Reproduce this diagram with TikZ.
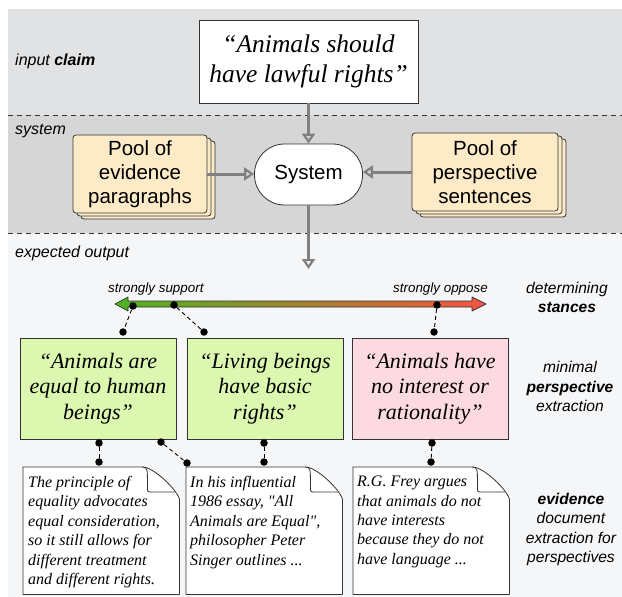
\documentclass[tikz,border=0pt]{standalone}
\usepackage{fontspec}
\setmainfont{Liberation Serif}
\setsansfont{Liberation Sans}
\newfontfamily\docfont{Liberation Serif}
\usetikzlibrary{arrows.meta,shadows,calc}
\definecolor{topc}{HTML}{E1E2E4}
\definecolor{sysc}{HTML}{D6D6D6}
\definecolor{botc}{HTML}{F5F6F8}
\definecolor{poolc}{HTML}{FDEBC8}
\definecolor{greenc}{HTML}{DBF7B0}
\definecolor{pinkc}{HTML}{FDD9E1}
\definecolor{arrowc}{HTML}{808080}
\definecolor{barl}{HTML}{4DB321}
\definecolor{barr}{HTML}{F7533F}
\definecolor{edge}{HTML}{333333}
\newcommand\docoutline[1]{%
 \filldraw[docline] (#1.south west) -- (#1.north west) -- ([xshift=-37pt]#1.north east)
   .. controls ([xshift=-26pt]#1.north east) and ([xshift=-3pt,yshift=-22pt]#1.north east) ..
   ([yshift=-32pt]#1.north east) -- (#1.south east) -- cycle;
 \draw[docline] ([xshift=-37pt]#1.north east)
   .. controls ([xshift=-32pt]#1.north east) and ([xshift=-32pt,yshift=-4pt]#1.north east) ..
   ([xshift=-32pt,yshift=-10pt]#1.north east) -- ([xshift=-32pt,yshift=-20pt]#1.north east)
   .. controls ([xshift=-32pt,yshift=-25pt]#1.north east) .. ([xshift=-27pt,yshift=-25pt]#1.north east)
   -- ([xshift=-4.5pt,yshift=-25pt]#1.north east);
}
\tikzset{
  lab/.style={font=\sffamily\itshape\fontsize{16}{19}\selectfont, inner sep=0pt},
  rlab/.style={font=\sffamily\itshape\fontsize{15.6}{19.5}\selectfont, inner sep=0pt, align=center},
  tiny/.style={font=\sffamily\itshape\fontsize{13.4}{16}\selectfont, inner sep=0pt},
  pool/.style={draw=edge, fill=poolc, line width=0.8pt, rounded corners=3pt,
    double copy shadow={shadow xshift=4pt, shadow yshift=-3pt},
    font=\sffamily\fontsize{20.5}{24}\selectfont, align=center, inner sep=0pt},
  persp/.style={draw=edge, line width=0.8pt, minimum width=156pt, minimum height=101pt,
    font=\itshape\fontsize{22}{25.5}\selectfont, align=center, inner sep=0pt},
  flow/.style={draw=arrowc, line width=3pt, -{Triangle[open, length=10pt, width=13pt, line width=2.2pt]}},
  dot/.style={circle, fill=black, inner sep=0pt, minimum size=7.5pt},
  link/.style={draw=black, line width=0.9pt, dash pattern=on 4pt off 3pt},
  sep/.style={draw=edge, line width=0.9pt, dash pattern=on 5pt off 4pt},
  docbox/.style={anchor=north west, minimum width=156pt, minimum height=127pt, inner sep=0pt},
  docline/.style={draw=edge, fill=white, line width=0.8pt, line join=round},
  doctext/.style={anchor=north west, inner sep=0pt, align=left,
    font=\docfont\itshape\fontsize{16}{19.4}\selectfont},
}
\begin{document}
\begin{tikzpicture}[x=1pt,y=-1pt]
\useasboundingbox (0,0) rectangle (622,597);
% bands
\fill[topc] (8,9) rectangle (622,115);
\fill[sysc] (8,115) rectangle (622,233);
\fill[botc] (8,233) rectangle (622,597);
\draw[sep] (8,115) -- (622,115);
\draw[sep] (8,233) -- (622,233);
% left labels
\node[lab, anchor=base west] (l1) at (15,65) {input \textbf{claim}};
\node[lab, anchor=base west] (l2) at (15,134) {system};
\node[lab, anchor=base west] (l3) at (15,257) {expected output};
% right labels (base anchor = last line baseline)
\node[rlab, anchor=base] (r1) at (567,312.5) {determining\\\textbf{stances}};
\node[rlab, anchor=base] (r2) at (570,411.5) {minimal\\\textbf{perspective}\\extraction};
\node[rlab, anchor=base] (r3) at (571,562.5) {\textbf{evidence}\\document\\extraction for\\perspectives};
% claim and system
\node[draw=edge, fill=white, line width=0.8pt, minimum width=219pt, minimum height=83pt,
  font=\itshape\fontsize{25.5}{30}\selectfont, align=center, inner sep=0pt]
  (claim) at (308.5,61.5) {``Animals should\\have lawful rights''};
\node[draw=edge, fill=white, line width=0.8pt, minimum width=108pt, minimum height=61pt,
  rounded corners=30pt, font=\sffamily\fontsize{20.5}{24}\selectfont, inner sep=0pt]
  (sys) at (308.5,174.5) {System};
\node[pool, minimum width=134pt, minimum height=78pt] (lpool) at (140,174) {Pool of\\evidence\\paragraphs};
\node[pool, minimum width=146pt, minimum height=78pt] (rpool) at (485,172) {Pool of\\perspective\\sentences};
\coordinate (out) at (308.5,269);
\draw[flow] (claim.south) -- (sys.north);
\draw[flow] (lpool.east) -- (lpool.east -| sys.west);
\draw[flow] (rpool.west) -- (rpool.west -| sys.east);
\draw[flow] (sys.south) -- (out);
% stance bar
\path[draw=edge, line width=0.7pt, left color=barl, right color=barr, line join=round]
  (115,304) -- (128,297) -- (128,301) -- (472,301) -- (472,297) -- (486,304)
  -- (472,311) -- (472,307) -- (128,307) -- (128,311) -- cycle;
\node[tiny, anchor=base west] (ss) at (108,292) {strongly support};
\node[tiny, anchor=base east] (so) at (488,292) {strongly oppose};
% perspectives
\node[persp, fill=greenc] (p1) at (98,388.5) {``Animals are\\equal to human\\beings''};
\node[persp, fill=greenc] (p2) at (265,388.5) {``Living beings\\have basic\\rights''};
\node[persp, fill=pinkc] (p3) at (430,388.5) {``Animals have\\no interest or\\rationality''};
% documents
\node[docbox] (d1) at (23,467) {};
\node[docbox] (d2) at (186,467) {};
\node[docbox] (d3) at (353,467) {};
\docoutline{d1}
\docoutline{d2}
\docoutline{d3}
\node[doctext] (t1) at ([xshift=5pt,yshift=-9pt]d1.north west) {The principle of\\equality advocates\\equal consideration,\\so it still allows for\\different treatment\\and different rights.};
\node[doctext] (t2) at ([xshift=4pt,yshift=-9pt]d2.north west) {In his influential\\1986 essay, "All\\Animals are Equal",\\philosopher Peter\\Singer outlines ...};
\node[doctext] (t3) at ([xshift=4pt,yshift=-9pt]d3.north west) {R.G. Frey argues\\that animals do not\\have interests\\because they do not\\have language ...};
% dots
\node[dot] (b1) at (133,306) {};
\node[dot] (b2) at (174,305) {};
\node[dot] (b3) at (437,305) {};
\node[dot] (p1t) at (123,332) {};
\node[dot] (p2t) at (204,332) {};
\node[dot] (p3t) at (434,332) {};
\node[dot] (p1b) at (99,443) {};
\node[dot] (p1r) at (161,442) {};
\node[dot] (p2b) at (264,443) {};
\node[dot] (p3b) at (432,443) {};
\node[dot] (d1t) at (99,462) {};
\node[dot] (d2l) at (187,463) {};
\node[dot] (d2t) at (264,462) {};
\node[dot] (d3t) at (431,462) {};
\draw[link] (b1) -- (p1t);
\draw[link] (b2) -- (p2t);
\draw[link] (b3) -- (p3t);
\draw[link] (p1b) -- (d1t);
\draw[link] (p1r) -- (d2l);
\draw[link] (p2b) -- (d2t);
\draw[link] (p3b) -- (d3t);
\end{tikzpicture}
\end{document}
